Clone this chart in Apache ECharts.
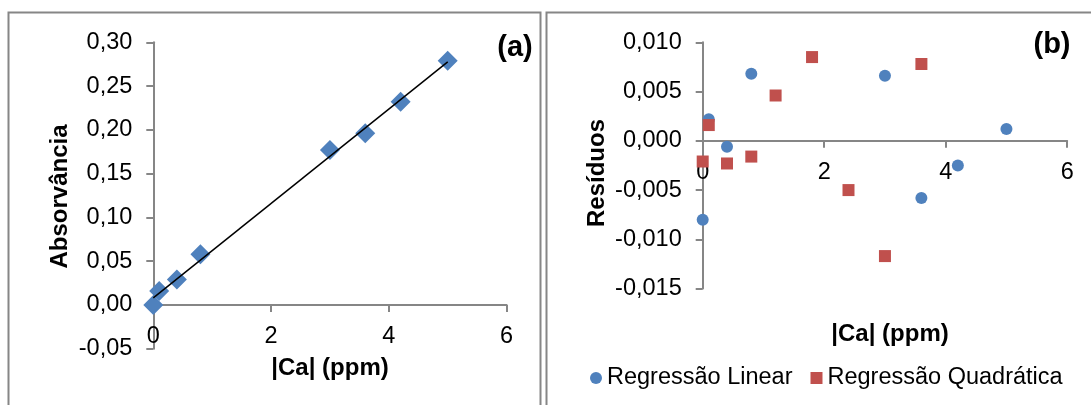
<!DOCTYPE html>
<html>
<head>
<meta charset="utf-8">
<script src="https://cdn.jsdelivr.net/npm/echarts@6/dist/echarts.min.js"></script>
<style>
html,body{margin:0;padding:0;background:#fff;}
#c{width:1091px;height:405px;}
</style>
</head>
<body>
<div id="c"></div>
<script>
// ---- Data ----
// Panel (a): calibration curve
const calibX = [0, 0.1, 0.4, 0.8, 3.0, 3.6, 4.2, 5.0];
const calibY = [0.000, 0.016, 0.029, 0.058, 0.177, 0.196, 0.232, 0.279];
// Panel (b): residuals
const linResX = [0, 0.1, 0.4, 0.8, 3.0, 3.6, 4.2, 5.0];
const linResY = [-0.0080, 0.0022, -0.0006, 0.0068, 0.0066, -0.0058, -0.0025, 0.0012];
const quadResX = [0, 0.1, 0.4, 0.8, 1.2, 1.8, 2.4, 3.0, 3.6];
const quadResY = [-0.0021, 0.0016, -0.0023, -0.0016, 0.0046, 0.0085, -0.0050, -0.0117, 0.0078];
const seriesNames = ['Regressão Linear', 'Regressão Quadrática'];
const xTitle = '|Ca| (ppm)';
const yTitleA = 'Absorvância';
const yTitleB = 'Resíduos';

// least-squares linear trendline through calibration data
function linFit(xs, ys) {
  const n = xs.length;
  const mx = xs.reduce((a, b) => a + b, 0) / n;
  const my = ys.reduce((a, b) => a + b, 0) / n;
  let sxy = 0, sxx = 0;
  for (let i = 0; i < n; i++) { sxy += (xs[i] - mx) * (ys[i] - my); sxx += (xs[i] - mx) ** 2; }
  const b = sxy / sxx;
  return { b: b, a: my - b * mx };
}
const fit = linFit(calibX, calibY);
const xMinData = Math.min(...calibX), xMaxData = Math.max(...calibX);
const trend = [[xMinData, fit.a + fit.b * xMinData], [xMaxData, fit.a + fit.b * xMaxData]];

const zip = (xs, ys) => xs.map((x, i) => [x, ys[i]]);

const FONT = '"Liberation Sans", Arial, sans-serif';
const AXIS_COLOR = '#868686';
const BLUE = '#4F81BD';
const RED = '#C0504D';
const TICK_FS = 23.5;
const TITLE_FONT = 'bold 24px ' + FONT;

// grid layouts
const gridA = { left: 153.3, top: 42.3, width: 353.3, height: 306.5 };
const gridB = { left: 702.7, top: 42.3, width: 364.5, height: 246.3 };
const yRangeA = { min: -0.05, max: 0.30, interval: 0.05 };
const yRangeB = { min: -0.015, max: 0.010, interval: 0.005 };
// x axis sits on y = 0: shift it up from the grid bottom
const zeroOffset = (g, r) => -((0 - r.min) / (r.max - r.min)) * g.height;

function axisCommon() {
  return {
    axisLine: { show: true, onZero: false, lineStyle: { color: AXIS_COLOR, width: 2 } },
    axisTick: { show: true, length: 7, lineStyle: { color: AXIS_COLOR, width: 2 } },
    splitLine: { show: false },
  };
}

const chart = echarts.init(document.getElementById('c'), null, { renderer: 'canvas' });

const option = {
  backgroundColor: '#ffffff',
  animation: false,
  textStyle: { fontFamily: FONT },
  grid: [
    Object.assign({ outerBoundsMode: 'none', containLabel: false }, gridA),
    Object.assign({ outerBoundsMode: 'none', containLabel: false }, gridB)
  ],
  xAxis: [
    Object.assign(axisCommon(), {
      type: 'value', gridIndex: 0, min: 0, max: 6, interval: 2, position: 'bottom',
      offset: zeroOffset(gridA, yRangeA),
      axisLabel: { margin: 20, fontSize: TICK_FS, color: '#000', fontFamily: FONT }
    }),
    Object.assign(axisCommon(), {
      type: 'value', gridIndex: 1, min: 0, max: 6, interval: 2, position: 'bottom',
      offset: zeroOffset(gridB, yRangeB),
      axisLabel: { margin: 20, fontSize: TICK_FS, color: '#000', fontFamily: FONT }
    })
  ],
  yAxis: [
    Object.assign(axisCommon(), {
      type: 'value', gridIndex: 0, min: yRangeA.min, max: yRangeA.max, interval: yRangeA.interval,
      axisLabel: { margin: 21, fontSize: TICK_FS, color: '#000', fontFamily: FONT,
        formatter: v => (Math.abs(v) < 1e-9 ? 0 : v).toFixed(2).replace('.', ',') }
    }),
    Object.assign(axisCommon(), {
      type: 'value', gridIndex: 1, min: yRangeB.min, max: yRangeB.max, interval: yRangeB.interval,
      axisLabel: { margin: 21, fontSize: TICK_FS, color: '#000', fontFamily: FONT,
        formatter: v => (Math.abs(v) < 1e-9 ? 0 : v).toFixed(3).replace('.', ',') }
    })
  ],
  legend: {
    data: [{ name: seriesNames[0], icon: 'circle' }, { name: seriesNames[1], icon: 'rect' }],
    left: 590, top: 366, padding: 0,
    itemWidth: 12, itemHeight: 12, itemGap: 18,
    textStyle: { fontSize: TICK_FS, color: '#000', fontFamily: FONT }
  },
  series: [
    {
      type: 'scatter', xAxisIndex: 0, yAxisIndex: 0,
      symbol: 'diamond', symbolSize: 20,
      itemStyle: { color: BLUE, opacity: 1 },
      data: zip(calibX, calibY), z: 2
    },
    {
      type: 'line', xAxisIndex: 0, yAxisIndex: 0,
      showSymbol: false, symbol: 'none',
      lineStyle: { color: '#000', width: 1.5 },
      data: trend, z: 3
    },
    {
      name: seriesNames[0], type: 'scatter', xAxisIndex: 1, yAxisIndex: 1,
      symbol: 'circle', symbolSize: 12,
      itemStyle: { color: BLUE, opacity: 1 },
      data: zip(linResX, linResY)
    },
    {
      name: seriesNames[1], type: 'scatter', xAxisIndex: 1, yAxisIndex: 1,
      symbol: 'rect', symbolSize: 12,
      itemStyle: { color: RED, opacity: 1 },
      data: zip(quadResX, quadResY)
    }
  ],
  graphic: [
    { type: 'rect', shape: { x: 8.5, y: 12.5, width: 532, height: 420 }, style: { fill: 'none', stroke: AXIS_COLOR, lineWidth: 2 }, silent: true, z: -1 },
    { type: 'rect', shape: { x: 546.5, y: 12.5, width: 560, height: 420 }, style: { fill: 'none', stroke: AXIS_COLOR, lineWidth: 2 }, silent: true, z: -1 },
    { type: 'text', x: 330, y: 368, style: { text: xTitle, font: TITLE_FONT, fill: '#000', align: 'center', verticalAlign: 'middle', textAlign: 'center', textVerticalAlign: 'middle' } },
    { type: 'text', x: 890, y: 334, style: { text: xTitle, font: TITLE_FONT, fill: '#000', align: 'center', verticalAlign: 'middle', textAlign: 'center', textVerticalAlign: 'middle' } },
    { type: 'text', x: 60, y: 196.5, rotation: Math.PI / 2, style: { text: yTitleA, font: TITLE_FONT, fill: '#000', align: 'center', verticalAlign: 'middle', textAlign: 'center', textVerticalAlign: 'middle' } },
    { type: 'text', x: 597, y: 173, rotation: Math.PI / 2, style: { text: yTitleB, font: TITLE_FONT, fill: '#000', align: 'center', verticalAlign: 'middle', textAlign: 'center', textVerticalAlign: 'middle' } },
    { type: 'text', x: 515, y: 48, style: { text: '(a)', font: 'bold 29px ' + FONT, fill: '#000', align: 'center', verticalAlign: 'middle', textAlign: 'center', textVerticalAlign: 'middle' } },
    { type: 'text', x: 1052, y: 45, style: { text: '(b)', font: 'bold 29px ' + FONT, fill: '#000', align: 'center', verticalAlign: 'middle', textAlign: 'center', textVerticalAlign: 'middle' } }
  ]
};
chart.setOption(option);
</script>
</body>
</html>
